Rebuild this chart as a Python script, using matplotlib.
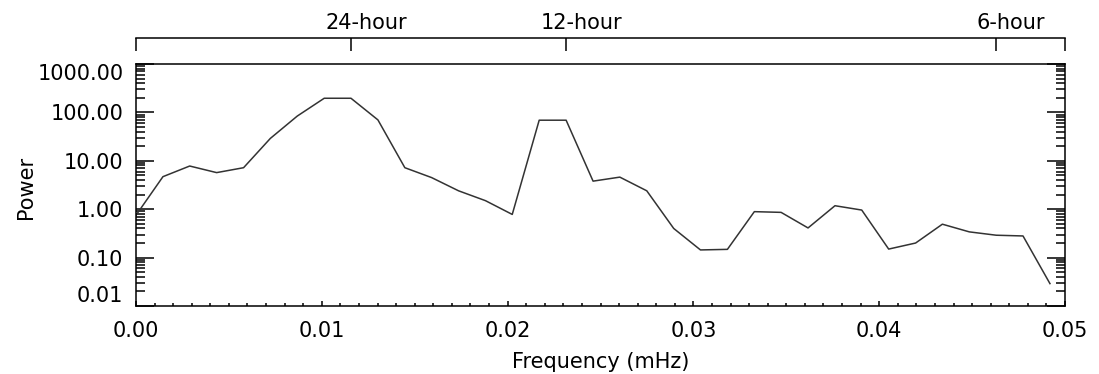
import numpy as np
import matplotlib.pyplot as plt
import matplotlib.transforms as mtransforms
from matplotlib.ticker import MultipleLocator, LogLocator, FormatStrFormatter, NullFormatter

plt.rcParams['font.family'] = 'DejaVu Sans'
plt.rcParams['font.size'] = 15

# frequency bins (mHz) and power
freq = [0.0, 0.00145, 0.00289, 0.00434, 0.00579, 0.00723, 0.00868, 0.01013,
        0.01157, 0.01302, 0.01447, 0.01591, 0.01736, 0.01881, 0.02025, 0.02170,
        0.02315, 0.02460, 0.02604, 0.02749, 0.02894, 0.03038, 0.03183, 0.03328,
        0.03472, 0.03617, 0.03762, 0.03906, 0.04051, 0.04196, 0.04340, 0.04485,
        0.04630, 0.04774, 0.04919]
power = [0.75, 4.7, 7.8, 5.7, 7.2, 29.0, 84.0, 196.0,
         196.0, 70.0, 7.2, 4.5, 2.4, 1.5, 0.78, 69.0,
         69.0, 3.8, 4.6, 2.4, 0.40, 0.144, 0.148, 0.89,
         0.86, 0.41, 1.18, 0.96, 0.15, 0.20, 0.49, 0.34,
         0.29, 0.28, 0.029]

period_ticks = [0.0, 0.011574, 0.023148, 0.046296, 0.05]
period_labels = ['', '24-hour', '12-hour', '6-hour', '']

fig = plt.figure(figsize=(10.99, 3.74), dpi=100)
ax = fig.add_axes([136 / 1099, 1 - 306 / 374, 929 / 1099, 242 / 374])

ax.plot(freq, power, color='#333333', lw=1.1)

ax.set_xlim(0, 0.05)
ax.set_yscale('log')
ax.set_ylim(0.01, 1000)

ax.set_xticks(np.arange(0, 0.0501, 0.01))
ax.xaxis.set_major_formatter(FormatStrFormatter('%.2f'))
ax.xaxis.set_minor_locator(MultipleLocator(0.001))
ax.yaxis.set_major_locator(LogLocator(base=10, numticks=10))
ax.yaxis.set_minor_locator(LogLocator(base=10, subs=np.arange(2, 10), numticks=20))
ax.yaxis.set_major_formatter(FormatStrFormatter('%.2f'))
ax.yaxis.set_minor_formatter(NullFormatter())

ax.tick_params(which='both', direction='in', top=True, right=True, width=1.1, color='black')
ax.tick_params(axis='x', which='major', length=3.8, pad=11)
ax.tick_params(axis='x', which='minor', length=2.0)
ax.tick_params(axis='y', which='major', length=13.3, pad=9)
ax.tick_params(axis='y', which='minor', length=6.5)
for sp in ax.spines.values():
    sp.set_linewidth(1.1)

ax.set_xlabel('Frequency (mHz)')
ax.xaxis.set_label_coords(0.5, -0.19)
ax.set_ylabel('Power')
ax.yaxis.set_label_coords(-0.108, 0.49)

fig.canvas.draw()
ylabels = ax.get_yticklabels()
vis = [t for t in ylabels if 0.01 <= t.get_position()[1] <= 1000]
for t in ylabels:
    y = t.get_position()[1]
    if np.isclose(y, 1000):
        t.set_va('top')
    elif np.isclose(y, 0.01):
        t.set_va('bottom')

# period axis above the plot
ax2 = ax.twiny()
ax2.set_xlim(0, 0.05)
ax2.spines['top'].set_position(('outward', 18.5))
ax2.spines['top'].set_linewidth(1.1)
for s in ['left', 'right', 'bottom']:
    ax2.spines[s].set_visible(False)
ax2.set_xticks(period_ticks)
ax2.set_xticklabels(period_labels)
ax2.tick_params(axis='x', direction='in', length=9.6, width=1.1, pad=4)
shift = mtransforms.ScaledTranslation(15 / 100, 0, fig.dpi_scale_trans)
for lbl in ax2.get_xticklabels():
    lbl.set_transform(lbl.get_transform() + shift)

fig.savefig('out.png', dpi=100)
